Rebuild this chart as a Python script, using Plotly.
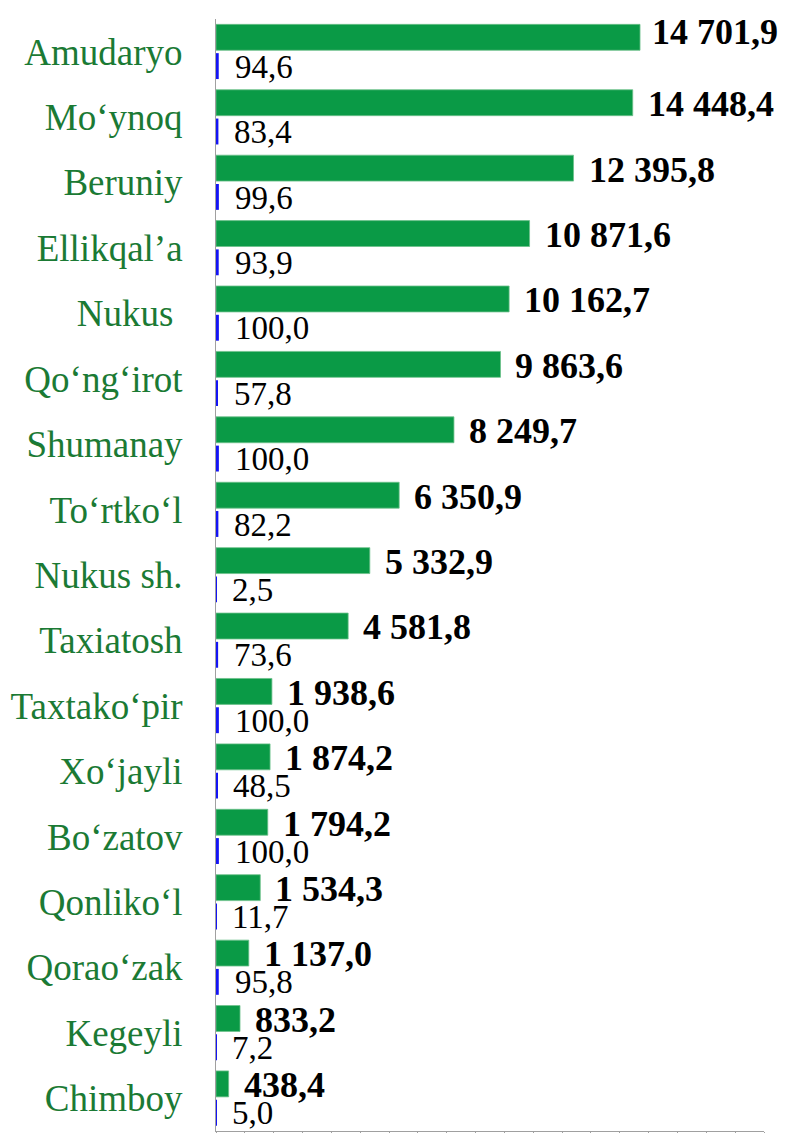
import plotly.graph_objects as go

# Districts, top to bottom
districts = [
    "Amudaryo", "Mo‘ynoq", "Beruniy", "Ellikqal’a", "Nukus ", "Qo‘ng‘irot",
    "Shumanay", "To‘rtko‘l", "Nukus sh.", "Taxiatosh", "Taxtako‘pir",
    "Xo‘jayli", "Bo‘zatov", "Qonliko‘l", "Qorao‘zak", "Kegeyli", "Chimboy",
]
# Main values (green bars)
volume = [
    14701.9, 14448.4, 12395.8, 10871.6, 10162.7, 9863.6, 8249.7, 6350.9,
    5332.9, 4581.8, 1938.6, 1874.2, 1794.2, 1534.3, 1137.0, 833.2, 438.4,
]
# Percentage shares (thin blue bars)
share = [
    94.6, 83.4, 99.6, 93.9, 100.0, 57.8, 100.0, 82.2,
    2.5, 73.6, 100.0, 48.5, 100.0, 11.7, 95.8, 7.2, 5.0,
]


def fmt(v):
    """Space as thousands separator, comma as decimal mark."""
    s = f"{v:,.1f}"
    return s.replace(",", " ").replace(".", ",")


SERIF = "'Liberation Serif', 'Times New Roman', Times, serif"
GREEN = "#0a9a46"
BLUE = "#1414f5"
LABEL_GREEN = "#1b7a34"

fig = go.Figure()
fig.add_trace(go.Bar(
    y=districts, x=volume, orientation="h",
    marker=dict(color=GREEN, line=dict(color="#6cc08a", width=0.8)),
    name="volume", hoverinfo="x+y",
))
fig.add_trace(go.Bar(
    y=districts, x=share, orientation="h",
    marker=dict(color=BLUE, line=dict(width=0)),
    name="share", hoverinfo="x+y",
))

annotations = []
for i, (d, v, p) in enumerate(zip(districts, volume, share)):
    # the longest bar's label is nudged up and in so it stays on the page
    top = i == 0
    annotations.append(dict(
        x=v, y=d, xref="x", yref="y", text=f"<b>{fmt(v)}</b>",
        showarrow=False, xanchor="left", yanchor="middle",
        xshift=10 if top else 13, yshift=20 if top else 13,
        font=dict(family=SERIF, size=36, color="black"),
    ))
    annotations.append(dict(
        x=p, y=d, xref="x", yref="y", text=fmt(p),
        showarrow=False, xanchor="left", yanchor="middle",
        xshift=14, yshift=-15,
        font=dict(family=SERIF, size=33, color="black"),
    ))

n = len(districts)
fig.update_layout(
    width=786, height=1133,
    margin=dict(l=216, r=22, t=19, b=2),
    paper_bgcolor="white", plot_bgcolor="white",
    barmode="group", bargap=0.12, bargroupgap=0.1,
    showlegend=False,
    font=dict(family=SERIF),
    annotations=annotations,
)
fig.update_xaxes(
    range=[0, 19000], dtick=1000, showticklabels=False,
    ticks="outside", ticklen=4, tickcolor="#a0a0a0",
    showline=True, linecolor="#a0a0a0", linewidth=1,
    showgrid=False, zeroline=False, fixedrange=True, automargin=False,
)
fig.update_yaxes(
    categoryorder="array", categoryarray=districts,
    range=[n - 0.5, -0.5],
    showline=True, linecolor="#a0a0a0", linewidth=1,
    ticks="", ticklabelstandoff=25,
    tickfont=dict(family=SERIF, size=37, color=LABEL_GREEN),
    showgrid=False, zeroline=False, fixedrange=True, automargin=False,
)

fig.write_html("out.html")
